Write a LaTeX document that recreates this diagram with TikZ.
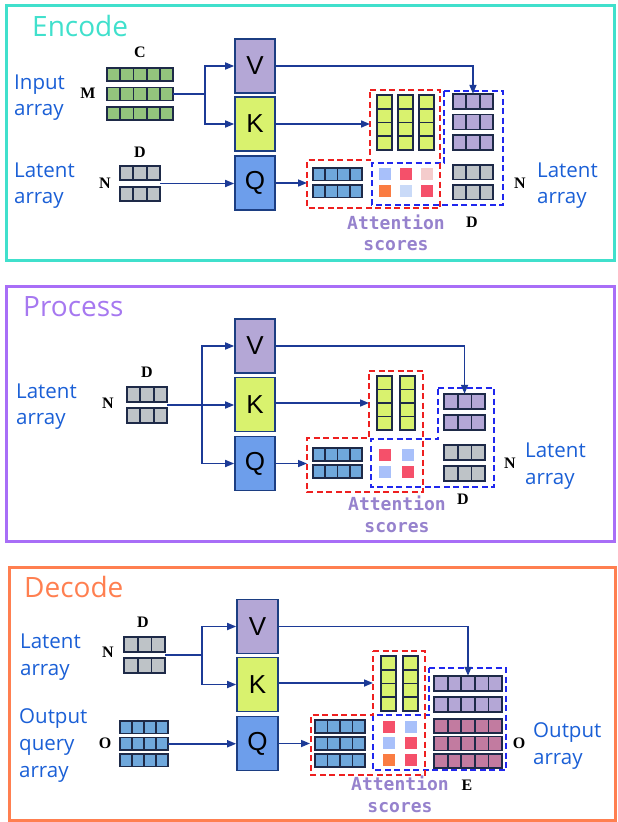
\documentclass[tikz,border=0pt]{standalone}
\usepackage{fontspec}
\setmainfont{Open Sans}
\newfontfamily\dimfont{Liberation Serif}
\newfontfamily\boxfont{Liberation Sans}
\newfontfamily\codefont{DejaVu Sans Mono}
\usetikzlibrary{arrows.meta,fit}

\definecolor{encteal}{RGB}{64,224,204}
\definecolor{procpurple}{RGB}{168,110,247}
\definecolor{deccoral}{RGB}{255,127,80}
\definecolor{proctitle}{RGB}{166,120,240}
\definecolor{lblblue}{RGB}{26,95,214}
\definecolor{connblue}{RGB}{28,58,150}
\definecolor{cellline}{RGB}{30,42,72}
\definecolor{boxline}{RGB}{28,62,130}
\definecolor{cgreen}{RGB}{147,196,125}
\definecolor{cgray}{RGB}{190,195,199}
\definecolor{cpurple}{RGB}{180,167,214}
\definecolor{clime}{RGB}{217,242,110}
\definecolor{cblue}{RGB}{111,168,220}
\definecolor{cmauve}{RGB}{194,123,160}
\definecolor{boxq}{RGB}{109,158,235}
\definecolor{sred}{RGB}{245,80,106}
\definecolor{slblue}{RGB}{168,192,250}
\definecolor{spink}{RGB}{244,204,204}
\definecolor{sorange}{RGB}{250,124,66}
\definecolor{spale}{RGB}{201,218,248}
\definecolor{attnpurple}{RGB}{150,130,205}
\definecolor{dashred}{RGB}{238,32,32}
\definecolor{dashblue}{RGB}{32,40,238}

% grid of cells: name, left, top, columns, rows, cell width, cell height, row gap, fill
\newcommand\cellgrid[9]{%
  \foreach \rowi in {1,...,#5}{%
    \foreach \coli in {1,...,#4}{%
      \draw[cellst, fill=#9] ({#2+(\coli-1)*#6},{#3+(\rowi-1)*(#7+#8)}) rectangle ++(#6,#7);
    }%
  }%
  \coordinate (#1-nw) at (#2,#3);
  \coordinate (#1-se) at ({#2+#4*#6},{#3+#5*#7+(#5-1)*#8});
  \node[inner sep=0pt, fit=(#1-nw)(#1-se)] (#1) {};
}

\tikzset{
  cellst/.style={draw=cellline, line width=1.8pt},
  panel/.style={line width=3pt},
  qkv/.style={draw=boxline, line width=1.6pt, minimum width=40pt, minimum height=54pt,
    inner sep=0pt, font=\boxfont\fontsize{26}{26}\selectfont},
  conn/.style={draw=connblue, line width=1.6pt},
  arrowto/.style={conn, -{Triangle[length=9pt,width=7pt]}},
  redbox/.style={draw=dashred, line width=1.6pt, dash pattern=on 6pt off 3.5pt},
  bluebox/.style={draw=dashblue, line width=1.6pt, dash pattern=on 6pt off 3.5pt},
  lbl/.style={text=lblblue, font=\fontsize{20.5}{20}\selectfont, anchor=base west, inner sep=0pt},
  title/.style={font=\fontsize{28}{28}\selectfont, anchor=base west, inner sep=0pt},
  dimlbl/.style={font=\dimfont\bfseries\fontsize{16}{16}\selectfont, inner sep=0pt},
  attn/.style={text=attnpurple, font=\codefont\bfseries\fontsize{18}{18}\selectfont, anchor=base, inner sep=0pt},
  score/.style={minimum size=12pt, inner sep=0pt, draw=none, anchor=north west}
}

\begin{document}
\begin{tikzpicture}[x=1pt,y=-1pt]
\useasboundingbox (0,0) rectangle (618,822);

% ---------------- panel frames ----------------
\draw[panel, draw=encteal] (6,5) rectangle (614,260);
\draw[panel, draw=procpurple] (6,286) rectangle (614,541);
\draw[panel, draw=deccoral] (9,567) rectangle (615,820);

% ================= Encode =================
\node[title, text=encteal] (eTitle) at (32,36) {Encode};
\node[lbl] (eInA) at (14,89) {Input};
\node[lbl] (eInB) at (14,115) {array};
\node[lbl] (eLatA) at (14,177) {Latent};
\node[lbl] (eLatB) at (14,203) {array};
\node[lbl] (eOutA) at (537,177) {Latent};
\node[lbl] (eOutB) at (537,203) {array};

\node[dimlbl] (eC) at (140,52) {C};
\node[dimlbl] (eM) at (88,93) {M};
\node[dimlbl] (eD1) at (140,152) {D};
\node[dimlbl] (eN1) at (105,183) {N};
\node[dimlbl] (eN2) at (520,183) {N};
\node[dimlbl] (eD2) at (472,222) {D};

\cellgrid{eIn}{107}{68}{5}{3}{13.2}{13}{6.5}{cgreen}
\cellgrid{eLat}{120}{166}{3}{2}{13.3}{14}{7}{cgray}
\cellgrid{eQa}{313}{168}{4}{2}{12.25}{12.5}{4.5}{cblue}
\cellgrid{eKa}{377}{95}{1}{4}{15}{13.75}{0}{clime}
\cellgrid{eKb}{398}{95}{1}{4}{15}{13.75}{0}{clime}
\cellgrid{eKc}{419}{95}{1}{4}{15}{13.75}{0}{clime}
\cellgrid{eVa}{453}{94}{3}{3}{13.3}{15}{5.5}{cpurple}
\cellgrid{eOut}{453}{165}{3}{2}{13.3}{14.5}{5.5}{cgray}

\node[score, fill=slblue] (es1) at (379,168) {};
\node[score, fill=sred] (es2) at (400,168) {};
\node[score, fill=spink] (es3) at (421,168) {};
\node[score, fill=sorange] (es4) at (379,185) {};
\node[score, fill=spale] (es5) at (400,185) {};
\node[score, fill=sred] (es6) at (421,185) {};

\draw[bluebox] (444,91) -- (503,91) -- (503,205) -- (372,205) -- (372,163) -- (444,163) -- cycle;
\draw[redbox] (370,90) -- (440,90) -- (440,208) -- (307,208) -- (307,160) -- (370,160) -- cycle;

\node[attn] (eAttA) at (396,229) {Attention};
\node[attn] (eAttB) at (396,250) {scores};

\node[qkv, fill=cpurple] (eV) at (255,66) {V};
\node[qkv, fill=clime] (eK) at (255,124) {K};
\node[qkv, fill=boxq] (eQ) at (255,183) {Q};

\coordinate (eJ) at (205,94);
\coordinate (eRedQ) at (307,183);
\coordinate (eRedK) at (370,124);
\draw[conn] (eIn.east) -- (eJ);
\draw[arrowto] (eJ) |- (eV.west);
\draw[arrowto] (eJ) |- (eK.west);
\draw[arrowto] (eLat.east) -- (eLat.east -| eQ.west);
\draw[arrowto] (eQ.east) -- (eRedQ);
\draw[arrowto] (eK.east) -- (eRedK);
\draw[arrowto] (eV.east) -| (eVa.north);

% ================= Process =================
\node[title, text=proctitle] (pTitle) at (23,316) {Process};
\node[lbl] (pLatA) at (16,398) {Latent};
\node[lbl] (pLatB) at (16,424) {array};
\node[lbl] (pOutA) at (525,457) {Latent};
\node[lbl] (pOutB) at (525,484) {array};

\node[dimlbl] (pD1) at (147,372) {D};
\node[dimlbl] (pN1) at (108,403) {N};
\node[dimlbl] (pN2) at (510,463) {N};
\node[dimlbl] (pD2) at (463,499) {D};

\cellgrid{pLat}{127}{387}{3}{2}{13.3}{15}{6}{cgray}
\cellgrid{pQa}{313}{448}{4}{2}{12.25}{13}{4}{cblue}
\cellgrid{pKa}{377}{376}{1}{4}{15}{13.5}{0}{clime}
\cellgrid{pKb}{400}{376}{1}{4}{15}{13.5}{0}{clime}
\cellgrid{pVa}{444}{394}{3}{2}{13.7}{15}{6}{cpurple}
\cellgrid{pOut}{444}{445}{3}{2}{13.7}{15}{6}{cgray}

\node[score, fill=sred] (ps1) at (379,449) {};
\node[score, fill=slblue] (ps2) at (402,449) {};
\node[score, fill=slblue] (ps3) at (379,466) {};
\node[score, fill=sred] (ps4) at (402,466) {};

\draw[bluebox] (438,388) -- (494,388) -- (494,487) -- (371,487) -- (371,439) -- (438,439) -- cycle;
\draw[redbox] (369,371) -- (423,371) -- (423,492) -- (307,492) -- (307,438) -- (369,438) -- cycle;

\node[attn] (pAttA) at (397,510) {Attention};
\node[attn] (pAttB) at (397,532) {scores};

\node[qkv, fill=cpurple] (pV) at (255,346) {V};
\node[qkv, fill=clime] (pK) at (255,404.5) {K};
\node[qkv, fill=boxq] (pQ) at (255,463.5) {Q};

\coordinate (pJ) at (202,405);
\coordinate (pRedQ) at (307,463.5);
\coordinate (pRedK) at (369,403);
\draw[conn] (pLat.east) -- (pJ);
\draw[arrowto] (pJ) |- (pV.west);
\draw[arrowto] (pJ) -- (pJ -| pK.west);
\draw[arrowto] (pJ) |- (pQ.west);
\draw[arrowto] (pQ.east) -- (pRedQ);
\draw[arrowto] (pK.east |- pRedK) -- (pRedK);
\draw[arrowto] (pV.east) -| (pVa.north);

% ================= Decode =================
\node[title, text=deccoral] (dTitle) at (24,597) {Decode};
\node[lbl] (dLatA) at (20,648) {Latent};
\node[lbl] (dLatB) at (20,675) {array};
\node[lbl] (dQryA) at (19,723) {Output};
\node[lbl] (dQryB) at (19,750) {query};
\node[lbl] (dQryC) at (19,777) {array};
\node[lbl] (dOutA) at (533,737) {Output};
\node[lbl] (dOutB) at (533,764) {array};

\node[dimlbl] (dD1) at (143,622) {D};
\node[dimlbl] (dN1) at (108,652) {N};
\node[dimlbl] (dO1) at (105,743) {O};
\node[dimlbl] (dO2) at (519,743) {O};
\node[dimlbl] (dE) at (467,785) {E};

\cellgrid{dLat}{124}{637}{3}{2}{13.7}{15}{6}{cgray}
\cellgrid{dQry}{120}{721}{4}{3}{12}{12.5}{4}{cblue}
\cellgrid{dQa}{315}{720}{4}{3}{12.5}{13}{4}{cblue}
\cellgrid{dKa}{381}{656}{1}{4}{15}{13.75}{0}{clime}
\cellgrid{dKb}{403}{656}{1}{4}{15}{13.75}{0}{clime}
\cellgrid{dVa}{434}{676}{5}{2}{13.6}{15}{6}{cpurple}
\cellgrid{dOut}{434}{719}{5}{3}{13.6}{14}{3.5}{cmauve}

\node[score, fill=sred] (ds1) at (383,721) {};
\node[score, fill=slblue] (ds2) at (405,721) {};
\node[score, fill=slblue] (ds3) at (383,737) {};
\node[score, fill=sred] (ds4) at (405,737) {};
\node[score, fill=sorange] (ds5) at (383,754) {};
\node[score, fill=sred] (ds6) at (405,754) {};

\draw[bluebox] (429,668) -- (506,668) -- (506,770) -- (373,770) -- (373,715) -- (429,715) -- cycle;
\draw[redbox] (373,651) -- (425,651) -- (425,775) -- (311,775) -- (311,715) -- (373,715) -- cycle;

\node[attn] (dAttA) at (400,790) {Attention};
\node[attn] (dAttB) at (400,812) {scores};

\node[qkv, fill=cpurple, minimum width=41pt] (dV) at (257.5,626.5) {V};
\node[qkv, fill=clime, minimum width=41pt] (dK) at (257.5,684.5) {K};
\node[qkv, fill=boxq, minimum width=41pt] (dQ) at (257.5,743.5) {Q};

\coordinate (dJ) at (202,655);
\coordinate (dRedQ) at (310,743.5);
\coordinate (dRedK) at (373,683);
\draw[conn] (dLat.east) -- (dJ);
\draw[arrowto] (dJ) |- (dV.west);
\draw[arrowto] (dJ) |- (dK.west);
\draw[arrowto] (dQry.east) -- (dQry.east -| dQ.west);
\draw[arrowto] (dQ.east) -- (dRedQ);
\draw[arrowto] (dK.east |- dRedK) -- (dRedK);
\draw[arrowto] (dV.east) -| (dVa.north);
\end{tikzpicture}
\end{document}
